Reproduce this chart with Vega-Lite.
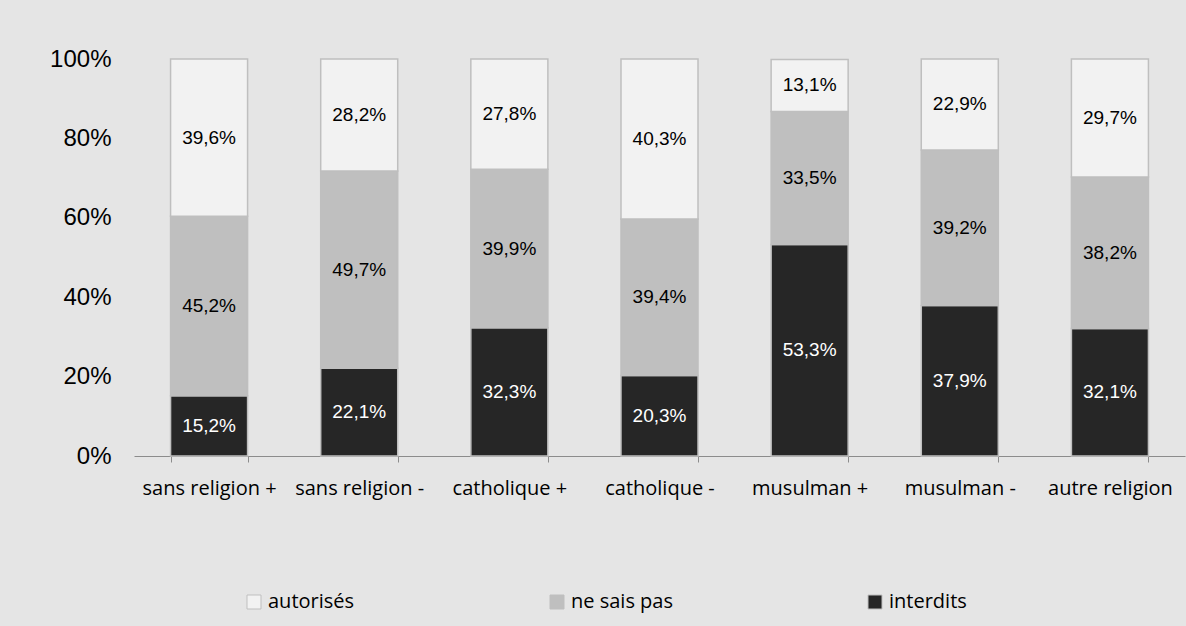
{
  "$schema": "https://vega.github.io/schema/vega-lite/v6.json",
  "width": 1051,
  "height": 397,
  "autosize": {"type": "none"},
  "padding": {"left": 134, "top": 59, "right": 1, "bottom": 170},
  "background": "#e5e5e5",
  "config": {
    "view": {"stroke": null},
    "locale": {"number": {"decimal": ",", "thousands": " ", "grouping": [3], "currency": ["", " €"]}}
  },
  "data": {
    "values": [
      {"groupe": "sans religion +", "reponse": "interdits", "ordre": 1, "valeur": 0.152},
      {"groupe": "sans religion +", "reponse": "ne sais pas", "ordre": 2, "valeur": 0.452},
      {"groupe": "sans religion +", "reponse": "autorisés", "ordre": 3, "valeur": 0.396},
      {"groupe": "sans religion -", "reponse": "interdits", "ordre": 1, "valeur": 0.221},
      {"groupe": "sans religion -", "reponse": "ne sais pas", "ordre": 2, "valeur": 0.497},
      {"groupe": "sans religion -", "reponse": "autorisés", "ordre": 3, "valeur": 0.282},
      {"groupe": "catholique +", "reponse": "interdits", "ordre": 1, "valeur": 0.323},
      {"groupe": "catholique +", "reponse": "ne sais pas", "ordre": 2, "valeur": 0.399},
      {"groupe": "catholique +", "reponse": "autorisés", "ordre": 3, "valeur": 0.278},
      {"groupe": "catholique -", "reponse": "interdits", "ordre": 1, "valeur": 0.203},
      {"groupe": "catholique -", "reponse": "ne sais pas", "ordre": 2, "valeur": 0.394},
      {"groupe": "catholique -", "reponse": "autorisés", "ordre": 3, "valeur": 0.403},
      {"groupe": "musulman +", "reponse": "interdits", "ordre": 1, "valeur": 0.533},
      {"groupe": "musulman +", "reponse": "ne sais pas", "ordre": 2, "valeur": 0.335},
      {"groupe": "musulman +", "reponse": "autorisés", "ordre": 3, "valeur": 0.131},
      {"groupe": "musulman -", "reponse": "interdits", "ordre": 1, "valeur": 0.379},
      {"groupe": "musulman -", "reponse": "ne sais pas", "ordre": 2, "valeur": 0.392},
      {"groupe": "musulman -", "reponse": "autorisés", "ordre": 3, "valeur": 0.229},
      {"groupe": "autre religion", "reponse": "interdits", "ordre": 1, "valeur": 0.321},
      {"groupe": "autre religion", "reponse": "ne sais pas", "ordre": 2, "valeur": 0.382},
      {"groupe": "autre religion", "reponse": "autorisés", "ordre": 3, "valeur": 0.297}
    ]
  },
  "encoding": {
    "x": {
      "field": "groupe",
      "type": "nominal",
      "sort": null,
      "scale": {"paddingInner": 0.487, "paddingOuter": 0.2435},
      "axis": {
        "title": null,
        "labelAngle": 0,
        "labelFont": "Open Sans",
        "labelFontSize": 20,
        "labelColor": "#000000",
        "labelPadding": 16,
        "tickBand": "extent",
        "tickSize": 6,
        "tickColor": "#8c8c8c",
        "domainColor": "#8c8c8c",
        "domainWidth": 1,
        "labelLimit": 200
      }
    },
    "y": {
      "field": "valeur",
      "type": "quantitative",
      "stack": "zero",
      "scale": {"domain": [0, 1], "nice": false},
      "axis": {
        "title": null,
        "format": ".0%",
        "values": [0, 0.2, 0.4, 0.6, 0.8, 1],
        "grid": false,
        "domain": false,
        "ticks": false,
        "tickSize": 0,
        "labelPadding": 23,
        "labelFont": "Liberation Sans",
        "labelFontSize": 24,
        "labelColor": "#000000"
      }
    },
    "order": {"field": "ordre", "type": "quantitative"}
  },
  "layer": [
    {
      "mark": {"type": "bar", "stroke": "#bfbfbf", "strokeWidth": 1.5},
      "encoding": {
        "color": {
          "field": "reponse",
          "type": "nominal",
          "scale": {
            "domain": ["autorisés", "ne sais pas", "interdits"],
            "range": ["#f2f2f2", "#bfbfbf", "#262626"]
          },
          "legend": {
            "title": null,
            "orient": "none",
            "legendX": 110,
            "legendY": 533,
            "direction": "horizontal",
            "columns": 3,
            "columnPadding": 192,
            "symbolType": "square",
            "symbolSize": 196,
            "symbolStrokeColor": "#bfbfbf",
            "symbolStrokeWidth": 1,
            "labelFont": "Open Sans",
            "labelFontSize": 20,
            "labelColor": "#000000",
            "labelOffset": 4,
            "labelLimit": 200
          }
        }
      }
    },
    {
      "mark": {"type": "text", "font": "Liberation Sans", "fontSize": 19, "baseline": "middle"},
      "encoding": {
        "y": {"field": "valeur", "type": "quantitative", "stack": "zero", "bandPosition": 0.5},
        "text": {"field": "valeur", "type": "quantitative", "format": ".1%"},
        "color": {
          "condition": {"test": "datum.reponse === 'interdits'", "value": "#ffffff"},
          "value": "#000000"
        }
      }
    }
  ]
}
